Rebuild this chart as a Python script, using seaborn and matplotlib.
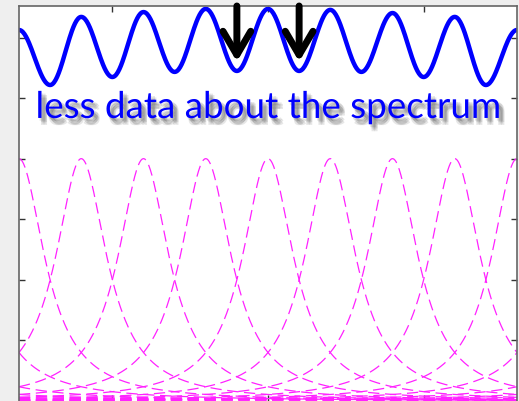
import numpy as np
import pandas as pd
import matplotlib
matplotlib.use("Agg")
import matplotlib.pyplot as plt
import matplotlib.patheffects as pe
import seaborn as sns

# ---- data ----
peak_centers = list(range(-4, 13))          # Lorentzian line centres (x units)
peak_halfwidth = 0.5                         # half width at half maximum
peak_height = 1.0

wave_u = [0, 0.5, 1, 1.5, 2, 2.5, 3, 3.5, 4, 4.5, 5, 5.5, 6, 6.5, 7, 7.5, 8]
wave_val = [1.531, 1.304, 1.585, 1.337, 1.605, 1.358, 1.618, 1.362, 1.618,
            1.362, 1.614, 1.358, 1.601, 1.337, 1.585, 1.304, 1.531]

arrow_u = [3.5, 4.5]
arrow_tip = 1.40

label_text = "less data about the spectrum"
label_u = 4.0
label_val = 1.168

xticks = [1.5, 4.0, 6.5]
yticks = [0.25, 0.5, 0.75, 1.0, 1.25, 1.5]
xlim = (0, 8)
ylim = (0, 1.63)

# ---- build tables ----
grid = np.linspace(xlim[0], xlim[1], 1601)
rows = []
for c in peak_centers:
    vals = peak_height / (1 + ((grid - c) / peak_halfwidth) ** 2)
    rows.append(pd.DataFrame({"u": grid, "value": vals, "center": c}))
lor = pd.concat(rows, ignore_index=True)

# smooth wave through the read extrema (half-cosine segments)
wu, wv = [], []
for i in range(len(wave_u) - 1):
    t = np.linspace(0, 1, 40, endpoint=False)
    wu.extend(wave_u[i] + (wave_u[i + 1] - wave_u[i]) * t)
    wv.extend(wave_val[i] + (wave_val[i + 1] - wave_val[i]) * (1 - np.cos(np.pi * t)) / 2)
wu.append(wave_u[-1]); wv.append(wave_val[-1])
wave = pd.DataFrame({"u": wu, "value": wv})

# ---- plot ----
sns.set_theme(style="white")
fig = plt.figure(figsize=(5.19, 4.01), dpi=100, facecolor="#efefef")
ax = fig.add_axes([19 / 519, 0, 498 / 519, 395 / 401])
ax.set_facecolor("white")

sns.lineplot(data=lor, x="u", y="value", units="center", estimator=None,
             color="#ff22ff", lw=0.9, ax=ax, legend=False)
for ln in ax.get_lines():
    ln.set_dashes((9, 4.5))

sns.lineplot(data=wave, x="u", y="value", sort=False, estimator=None,
             color="#0000ff", lw=3.2, ax=ax, legend=False)

for u in arrow_u:
    ax.annotate("", xy=(u, arrow_tip), xytext=(u, ylim[1]),
                arrowprops=dict(arrowstyle="->,head_length=0.85,head_width=0.5",
                                lw=5, color="black", shrinkA=0, shrinkB=0,
                                mutation_scale=20))

shadow = [pe.SimplePatchShadow(offset=o, shadow_rgbFace="#444444", alpha=0.13)
          for o in [(1, -2), (2, -3), (3, -4), (2, -5), (4, -3), (3, -2), (4, -5)]]
ax.text(label_u, label_val, label_text, ha="center", va="baseline",
        fontsize=26.5, color="#0000ff", family="Lato",
        path_effects=shadow + [pe.Normal()])

ax.set_xlim(*xlim)
ax.set_ylim(*ylim)
ax.set_xticks(xticks)
ax.set_yticks(yticks)
ax.set_xlabel("")
ax.set_ylabel("")
ax.tick_params(direction="in", length=4, width=1, color="#333333",
               top=True, right=True, bottom=True, left=True,
               labelbottom=False, labelleft=False)
for s in ["left", "right", "top"]:
    ax.spines[s].set_color("#666666")
    ax.spines[s].set_linewidth(1.2)
ax.spines["bottom"].set_visible(False)

fig.savefig("out.png", dpi=100, facecolor=fig.get_facecolor())
